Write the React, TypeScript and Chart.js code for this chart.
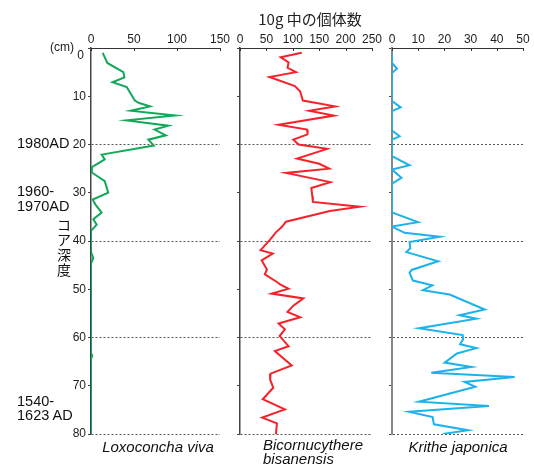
import React, { useEffect, useRef } from "react";
import { Chart, registerables } from "chart.js";
Chart.register(...registerables);

// ---- Data (depth in cm, individuals per 10 g) ----
const depthLoxo = [1.0, 3.1, 5.0, 6.1, 7.1, 8.1, 10.9, 11.4, 12.1, 13.0, 14.0, 15.0, 16.1, 16.9, 18.1, 19.0, 20.2, 22.1, 23.1, 24.8, 25.8, 27.6, 30.0, 31.4, 32.4, 34.1, 35.5, 36.6, 37.9, 42.3, 43.5, 44.7, 63.2, 63.8, 64.4, 80];
const valLoxo = [13.6, 19, 37.6, 38.8, 25, 41.5, 51, 56, 68.6, 46, 97.7, 41.5, 90, 74, 87, 66.7, 73, 12.4, 16, 0, 1, 16, 20, 2, 5, 12.4, 2.7, 6.6, 0, 0, 2.7, 0, 0, 1.5, 0, 0];

const depthBicorn = [1.0, 1.9, 3.0, 4.1, 5.0, 6.0, 7.9, 9.0, 10.9, 12.1, 13.0, 14.0, 15.9, 16.9, 17.9, 19.0, 20.0, 20.9, 22.9, 24.0, 25.0, 25.9, 27.8, 29.0, 30.7, 31.9, 32.9, 33.8, 36.0, 37.0, 38.2, 39.7, 41.9, 42.6, 44.0, 45.9, 46.9, 48.5, 49.0, 49.9, 50.9, 51.9, 53.4, 54.7, 55.8, 57.1, 58.3, 59.7, 61.8, 62.8, 65.8, 67.5, 68.7, 70.4, 72.8, 74.9, 76.6, 77.8, 80];
const valBicorn = [117, 77, 92, 90, 106, 56, 104, 114, 119, 180, 131, 178, 73, 127, 128, 101, 111, 165, 108, 150, 169, 87, 171, 135, 137, 138, 227, 170, 87, 80, 68, 57, 39, 62, 41, 51, 47, 70, 76, 92, 60, 120, 101, 90, 114, 73, 85, 75, 92, 66, 98, 58, 57, 63, 43, 85, 42, 70, 68];

const depthKrithe = [1.0, 3.1, 4.3, 5.2, 11.0, 12.3, 13.1, 17.1, 18.3, 19.0, 22.4, 24.3, 25.2, 26.9, 28.1, 34.1, 36.1, 37.0, 38.3, 39.1, 40.2, 41.5, 42.3, 44.2, 46.0, 46.6, 48.2, 49.2, 50.2, 51.1, 54.2, 55.4, 56.1, 58.1, 59.5, 60.4, 61.4, 62.2, 63.3, 65.2, 66.1, 67.3, 68.2, 69.2, 70.2, 73.3, 74.2, 75.4, 76.5, 78.0, 79.2, 80];
const valKrithe = [0, 0, 1.9, 0, 0, 3.3, 0, 0, 2.9, 0, 0, 6.7, 0, 3.6, 0, 0, 9.9, 0, 4.8, 18.2, 6.7, 7, 5.5, 17.6, 7.5, 6.7, 8, 15.4, 11.8, 22, 35.4, 25.8, 32.2, 10.3, 27, 27.1, 26, 32.2, 24.8, 20.1, 30.3, 15, 46.8, 27.7, 31.8, 10.3, 37, 6.5, 15.5, 16, 29, 19.5];

const xMaxes = [150, 250, 50];
const xSteps = [50, 50, 10];
const speciesNames = ["Loxoconcha viva", "Bicornucythere bisanensis", "Krithe japonica"];
const depthMax = 80;

// ---- Layout ----
const W = 534;
const H = 466;
const TOP = 48;
const BOTTOM = 434;
const XAXIS_H = 22;
const YAXIS_W = 40;
const FONT = '"Liberation Sans", Arial, sans-serif';

type Panel = {
  left: number;
  right: number;
  max: number;
  step: number;
  color: string;
  depths: number[];
  values: number[];
  showY: boolean;
  axisColor: string;
  axisWidth: number;
};

const panels: Panel[] = [
  { left: 91, right: 220, max: xMaxes[0], step: xSteps[0], color: "#12a85a", depths: depthLoxo, values: valLoxo, showY: true, axisColor: "#444", axisWidth: 1.5 },
  { left: 240, right: 372, max: xMaxes[1], step: xSteps[1], color: "#f5222a", depths: depthBicorn, values: valBicorn, showY: false, axisColor: "#444", axisWidth: 1.5 },
  { left: 392, right: 523, max: xMaxes[2], step: xSteps[2], color: "#1cb2ea", depths: depthKrithe, values: valKrithe, showY: false, axisColor: "#888", axisWidth: 2 },
];

const inwardTicks = {
  id: "inwardTicks",
  afterDraw(chart: any) {
    const xs = chart.scales.x;
    const ctx = chart.ctx;
    const top = chart.chartArea.top;
    ctx.save();
    ctx.strokeStyle = "#333";
    ctx.lineWidth = 1;
    ctx.beginPath();
    xs.ticks.forEach((t: any) => {
      const x = Math.round(xs.getPixelForValue(t.value)) + 0.5;
      ctx.moveTo(x, top);
      ctx.lineTo(x, top + 3);
    });
    ctx.stroke();
    ctx.restore();
  },
};

function makeConfig(p: Panel): any {
  return {
    type: "scatter",
    data: {
      datasets: [
        {
          data: p.depths.map((d, i) => ({ x: p.values[i], y: d })),
          showLine: true,
          borderColor: p.color,
          backgroundColor: p.color,
          borderWidth: 2,
          pointRadius: 0,
          tension: 0,
          fill: false,
        },
      ],
    },
    options: {
      responsive: false,
      maintainAspectRatio: false,
      animation: false,
      layout: {
        padding: {
          left: p.left - YAXIS_W,
          right: W - p.right,
          top: TOP - XAXIS_H,
          bottom: H - BOTTOM,
        },
      },
      plugins: { legend: { display: false }, tooltip: { enabled: false }, title: { display: false } },
      scales: {
        x: {
          type: "linear",
          position: "top",
          min: 0,
          max: p.max,
          ticks: { stepSize: p.step, autoSkip: false, maxRotation: 0, padding: 1, color: "#222", font: { family: FONT, size: 12 } },
          grid: { drawOnChartArea: false, drawTicks: false },
          border: { color: "#333", width: 1 },
          afterFit: (s: any) => {
            s.height = XAXIS_H;
          },
        },
        y: {
          type: "linear",
          position: "left",
          min: 0,
          max: depthMax,
          reverse: true,
          ticks: {
            stepSize: 10,
            display: p.showY,
            padding: 2,
            color: "#222",
            font: { family: FONT, size: 12 },
            callback: (v: any) => (v === 0 ? "" : String(v)),
          },
          grid: {
            color: (ctx: any) =>
              ctx.tick && ctx.tick.value % 20 === 0 && ctx.tick.value !== 0 ? "#555" : "rgba(0,0,0,0)",
            lineWidth: 1,
            tickLength: 3,
            tickColor: "#444",
            drawTicks: true,
          },
          border: { color: p.axisColor, width: p.axisWidth, dash: [2, 2] },
          afterFit: (s: any) => {
            s.width = YAXIS_W;
          },
        },
      },
    },
    plugins: [inwardTicks],
  };
}

const txt = (extra: React.CSSProperties): React.CSSProperties => ({
  position: "absolute",
  whiteSpace: "nowrap",
  fontFamily: FONT,
  color: "#111",
  ...extra,
});

export default function App() {
  const r0 = useRef<HTMLCanvasElement>(null);
  const r1 = useRef<HTMLCanvasElement>(null);
  const r2 = useRef<HTMLCanvasElement>(null);

  useEffect(() => {
    const refs = [r0, r1, r2];
    const charts = panels.map((p, i) => new Chart(refs[i].current as HTMLCanvasElement, makeConfig(p)));
    return () => charts.forEach((c) => c.destroy());
  }, []);

  const canvasStyle: React.CSSProperties = { position: "absolute", left: 0, top: 0, width: W, height: H };

  return (
    <div style={{ position: "absolute", left: 0, top: 0, width: W, height: H, background: "#fff", overflow: "hidden" }}>
      <canvas ref={r0} width={W} height={H} style={canvasStyle} />
      <canvas ref={r1} width={W} height={H} style={canvasStyle} />
      <canvas ref={r2} width={W} height={H} style={canvasStyle} />

      <div style={txt({ left: 310, top: 10, transform: "translateX(-50%)", fontSize: 15, lineHeight: "18px", fontFamily: '"Noto Sans CJK JP", "Noto Sans", sans-serif', color: "#222" })}>
        10g 中の個体数
      </div>
      <div style={txt({ right: W - 74, top: 40, fontSize: 12, lineHeight: "14px", color: "#222" })}>(cm)</div>
      <div style={txt({ right: W - 84, top: 48, fontSize: 12, lineHeight: "14px", color: "#222" })}>0</div>

      <div style={txt({ left: 17, top: 135, fontSize: 14.5, lineHeight: "16px" })}>1980AD</div>
      <div style={txt({ left: 17, top: 184, fontSize: 14.5, lineHeight: "15px" })}>
        1960-
        <br />
        1970AD
      </div>
      <div style={txt({ left: 57, top: 217, width: 14, textAlign: "center", fontSize: 14, lineHeight: "15px", fontFamily: '"Noto Sans CJK JP", sans-serif' })}>
        コ<br />ア<br />深<br />度
      </div>
      <div style={txt({ left: 17, top: 394, fontSize: 14.5, lineHeight: "14px" })}>
        1540-
        <br />
        1623 AD
      </div>

      <div style={txt({ left: 158, top: 438, transform: "translateX(-50%)", fontSize: 15, lineHeight: "17px", fontStyle: "italic" })}>
        {speciesNames[0]}
      </div>
      <div style={txt({ left: 263, top: 438, fontSize: 15, lineHeight: "14px", fontStyle: "italic" })}>
        Bicornucythere
        <br />
        bisanensis
      </div>
      <div style={txt({ left: 458, top: 438, transform: "translateX(-50%)", fontSize: 15, lineHeight: "17px", fontStyle: "italic" })}>
        {speciesNames[2]}
      </div>
    </div>
  );
}
